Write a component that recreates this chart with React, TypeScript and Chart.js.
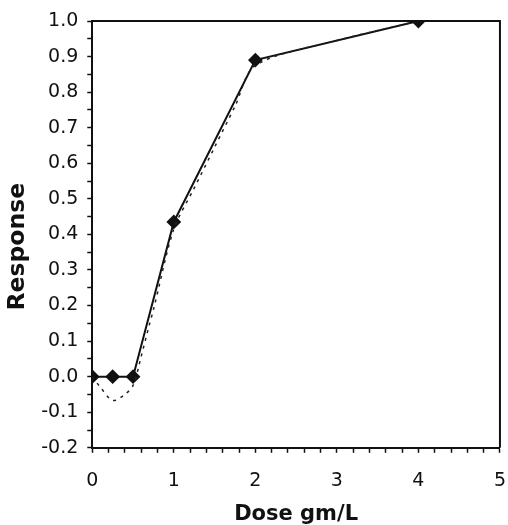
import React, { useEffect, useRef } from "react";
import { Chart, registerables } from "chart.js";

Chart.register(...registerables);

const doseX = [0, 0.25, 0.5, 1, 2, 4];
const responseY = [0, 0, 0, 0.435, 0.89, 1.0];

const fitX = [0, 0.1, 0.25, 0.4, 0.5, 0.6, 0.7, 0.75, 1.0, 1.25, 1.5, 1.75, 2, 3, 4];
const fitY = [0, -0.03, -0.067, -0.05, -0.025, 0.057, 0.146, 0.188, 0.415, 0.53, 0.645, 0.76, 0.875, 0.945, 1.0];

const xTitle = "Dose gm/L";
const yTitle = "Response";

const frame = {
  id: "frame",
  afterDraw(chart: any) {
    const { ctx, chartArea: a } = chart;
    ctx.save();
    ctx.strokeStyle = "#111";
    ctx.lineWidth = 2;
    ctx.beginPath();
    ctx.moveTo(a.left, a.top);
    ctx.lineTo(a.right, a.top);
    ctx.lineTo(a.right, a.bottom);
    ctx.stroke();
    ctx.restore();
  },
};

export default function App() {
  const ref = useRef<HTMLCanvasElement>(null);
  useEffect(() => {
    const font = "'DejaVu Sans', sans-serif";
    const chart = new Chart(ref.current!, {
      type: "scatter",
      data: {
        datasets: [
          {
            data: fitX.map((x, i) => ({ x, y: fitY[i] })),
            showLine: true,
            borderColor: "#222",
            borderWidth: 1.5,
            borderDash: [3, 5],
            pointRadius: 0,
            tension: 0.3,
          },
          {
            data: doseX.map((x, i) => ({ x, y: responseY[i] })),
            showLine: true,
            borderColor: "#111",
            borderWidth: 2,
            pointStyle: "rectRot",
            pointRadius: 6,
            pointBackgroundColor: "#111",
            pointBorderColor: "#111",
          },
        ],
      },
      options: {
        animation: false,
        responsive: false,
        layout: { padding: { top: 21, right: 8, left: 0, bottom: 0 } },
        plugins: { legend: { display: false }, tooltip: { enabled: false } },
        scales: {
          x: {
            type: "linear",
            min: 0,
            max: 5,
            border: { color: "#111", width: 2 },
            grid: { drawOnChartArea: false, tickLength: 5, color: "#111", tickWidth: 1.5 },
            ticks: {
              stepSize: 0.2,
              autoSkip: false,
              maxRotation: 0,
              color: "#111",
              font: { family: font, size: 19, lineHeight: 2.737 },
              padding: 2,
              callback: (v: any) => {
                const r = Math.round(Number(v) * 10);
                return r % 10 === 0 ? String(r / 10) : "";
              },
            },
            title: {
              display: true,
              text: xTitle,
              color: "#111",
              font: { family: font, size: 21, weight: "bold" },
              padding: { top: -7, bottom: -2 },
            },
          },
          y: {
            type: "linear",
            min: -0.2,
            max: 1.0,
            border: { color: "#111", width: 2 },
            grid: { drawOnChartArea: false, tickLength: 5, color: "#111", tickWidth: 1.5 },
            ticks: {
              stepSize: 0.05,
              autoSkip: false,
              color: "#111",
              font: { family: font, size: 19 },
              padding: 9,
              callback: (v: any) => {
                const r = Math.round(Number(v) * 100);
                return r % 10 === 0 ? (r / 100).toFixed(1) : "";
              },
            },
            title: {
              display: true,
              text: yTitle + "   ",
              color: "#111",
              font: { family: font, size: 23.5, weight: "bold", lineHeight: 1.0 },
              padding: { top: 6, bottom: 2.7 },
            },
          },
        },
      },
      plugins: [frame],
    });
    return () => chart.destroy();
  }, []);
  return (
    <div style={{ position: "fixed", left: 0, top: 0, width: 508, height: 525, background: "#fff" }}>
      <canvas ref={ref} width={508} height={525} />
    </div>
  );
}
